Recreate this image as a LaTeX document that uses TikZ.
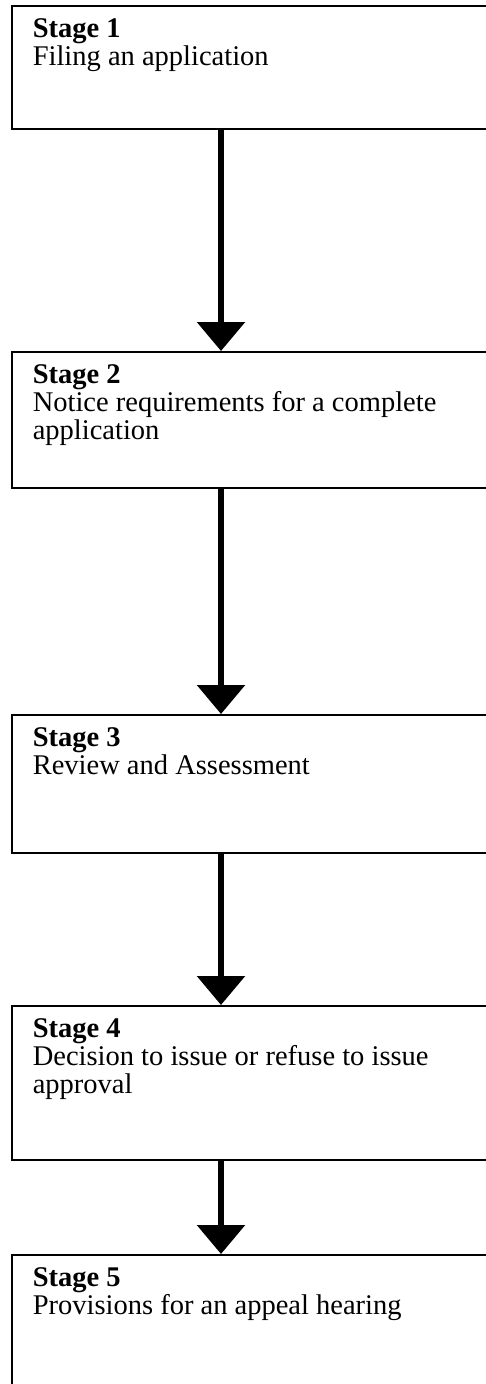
\documentclass[tikz,border=0pt]{standalone}
\usepackage{fontspec}
\setmainfont{Liberation Serif}
\usepackage{tikz}
\usetikzlibrary{arrows.meta}

\tikzset{
	stagebox/.style={draw, line width=1.6pt, anchor=north west, inner xsep=21pt, inner ysep=13pt,
		font=\fontsize{28.5pt}{28pt}\selectfont},
	flow/.style={line width=6pt, -{Triangle[width=47pt,length=29pt]}}
}
\newcommand{\stagetext}[3]{\parbox[t][#1][t]{480pt}{\textbf{#2}\\#3}}

\begin{document}
\begin{tikzpicture}[x=1pt,y=-1pt]
			\useasboundingbox (0,0) rectangle (486,1384);
			\clip (0,0) rectangle (486,1384);

			\node (s1) at (11,5) [stagebox] {\stagetext{97pt}{Stage 1}{Filing an application}};
			\node (s2) at (11,351) [stagebox] {\stagetext{110pt}{Stage 2}{Notice requirements for a complete\\application}};
			\node (s3) at (11,714) [stagebox] {\stagetext{112pt}{Stage 3}{Review and Assessment}};
			\node (s4) at (11,1005) [stagebox] {\stagetext{128pt}{Stage 4}{Decision to issue or refuse to issue\\approval}};
			\node (s5) at (11,1254) [stagebox] {\stagetext{160pt}{Stage 5}{Provisions for an appeal hearing}};

			\path	[flow]	([xshift=210pt]s1.south west)	edge	([xshift=210pt]s2.north west)
			([xshift=210pt]s2.south west)	edge	([xshift=210pt]s3.north west)
			([xshift=210pt]s3.south west)	edge	([xshift=210pt]s4.north west)
			([xshift=210pt]s4.south west)	edge	([xshift=210pt]s5.north west);
		\end{tikzpicture}
\end{document}
